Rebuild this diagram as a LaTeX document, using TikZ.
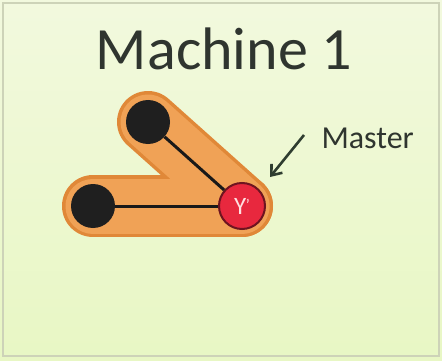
\documentclass[tikz,border=0pt]{standalone}
\usepackage{fontspec}
\setmainfont{Carlito}
\usetikzlibrary{arrows.meta}
\definecolor{bgtop}{HTML}{F2F9DE}
\definecolor{bgbot}{HTML}{E8F7C4}
\definecolor{frame}{HTML}{CDD3B8}
\definecolor{capedge}{HTML}{E08838}
\definecolor{capfill}{HTML}{F0A256}
\definecolor{nodered}{HTML}{E8283E}
\definecolor{nodeedge}{HTML}{6E1420}
\definecolor{inktext}{HTML}{2F352F}
\definecolor{arrowink}{HTML}{2F3D30}
\tikzset{
  blacknode/.style={circle,fill=black!88,minimum size=44pt,inner sep=0pt},
  masternode/.style={circle,fill=nodered,draw=nodeedge,line width=2pt,
    minimum size=46pt,inner sep=0pt,text=white!88!red,font=\fontsize{25}{25}\selectfont},
  capouter/.style={line width=62pt,line cap=round,draw=capedge},
  capinner/.style={line width=55pt,line cap=round,draw=capfill},
  edgeline/.style={line width=3pt,draw=black!90},
  pointer/.style={line width=2.6pt,draw=arrowink,-{Straight Barb[length=9pt,width=14pt,line width=2.6pt]}},
}
\begin{document}
\begin{tikzpicture}[x=1pt,y=-1pt]
  \useasboundingbox (0,0) rectangle (442,361);
  % panel background and frame
  \shade[top color=bgtop,bottom color=bgbot] (0,0) rectangle (442,361);
  \draw[frame,line width=1.5pt] (3,3) rectangle (439,356);

  % title
  \node[text=inktext,font=\fontsize{60}{60}\selectfont,anchor=base] (title) at (224,70) {Machine 1};

  % node positions
  \coordinate (ptop) at (148,122);
  \coordinate (pleft) at (93,206);
  \coordinate (pmaster) at (242,206);

  % orange groups joining each neighbour to the master
  \draw[capouter] (pleft) -- (pmaster);
  \draw[capouter] (ptop) -- (pmaster);
  \draw[capinner] (pleft) -- (pmaster);
  \draw[capinner] (ptop) -- (pmaster);

  % vertices
  \node[blacknode] (top) at (ptop) {};
  \node[blacknode] (left) at (pleft) {};
  \node[masternode] (master) at (pmaster) {Y\kern-0.5pt\raisebox{0.3ex}{\fontsize{16}{16}\selectfont'}};

  % edges
  \draw[edgeline] (top) -- (master);
  \draw[edgeline] (left) -- (master);

  % label with pointer
  \node[text=inktext,font=\fontsize{32}{32}\selectfont,anchor=base west] (label) at (318,148) {Master};
  \coordinate (tail) at (304,135);
  \coordinate (tip) at (270,177);
  \draw[pointer] (tail) -- (tip);
\end{tikzpicture}
\end{document}
